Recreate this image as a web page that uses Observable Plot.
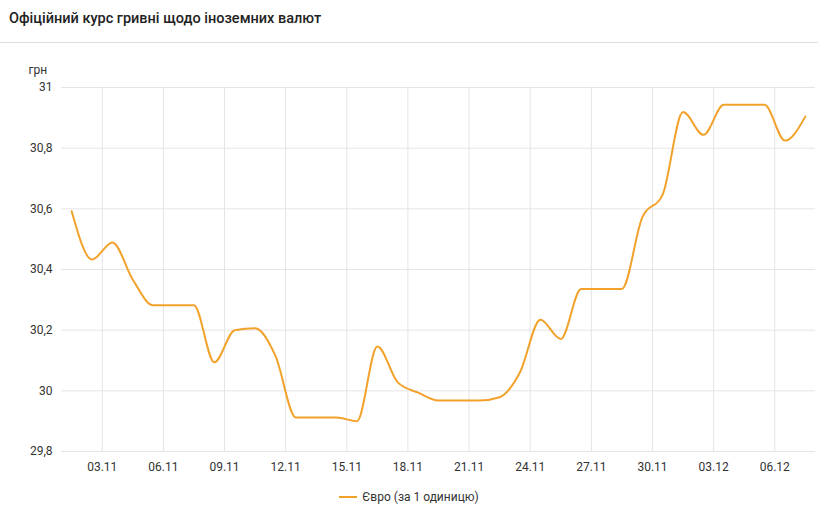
<!DOCTYPE html>
<html>
<head>
<meta charset="utf-8">
<script src="https://cdn.jsdelivr.net/npm/d3@7"></script>
<script src="https://cdn.jsdelivr.net/npm/@observablehq/plot@0.6"></script>
<style>
  html, body { margin: 0; padding: 0; background: #fff; }
  body { width: 818px; height: 530px; overflow: hidden; font-family: Roboto, sans-serif; }
  #header { height: 42px; border-bottom: 1px solid #dedede; box-shadow: 0 1px 2px rgba(0,0,0,0.10); display: flex; align-items: center; }
  #title { margin-left: 9px; font-size: 14.5px; font-weight: 500; color: #222; margin-top: -6px; }
  #chart svg { display: block; }
  #legend { display: flex; justify-content: center; align-items: center; margin-top: 8px; height: 16px; font-size: 12px; color: #333; }
  #legend .sw { width: 18px; height: 2px; background: #f2a22b; margin-right: 5px; }
</style>
</head>
<body>
<div id="header"><div id="title">Офіційний курс гривні щодо іноземних валют</div></div>
<div id="chart"></div>
<div id="legend"><span class="sw"></span><span>Євро (за 1 одиницю)</span></div>
<script>
const dates = [
  "2021-11-01","2021-11-02","2021-11-03","2021-11-04","2021-11-05","2021-11-06","2021-11-07",
  "2021-11-08","2021-11-09","2021-11-10","2021-11-11","2021-11-12","2021-11-13","2021-11-14",
  "2021-11-15","2021-11-16","2021-11-17","2021-11-18","2021-11-19","2021-11-20","2021-11-21",
  "2021-11-22","2021-11-23","2021-11-24","2021-11-25","2021-11-26","2021-11-27","2021-11-28",
  "2021-11-29","2021-11-30","2021-12-01","2021-12-02","2021-12-03","2021-12-04","2021-12-05",
  "2021-12-06","2021-12-07"
];
const euro = [
  30.592, 30.433, 30.489, 30.366, 30.282, 30.282, 30.282,
  30.094, 30.200, 30.206, 30.115, 29.912, 29.912, 29.912,
  29.900, 30.146, 30.028, 29.994, 29.968, 29.968, 29.968,
  29.979, 30.061, 30.234, 30.171, 30.336, 30.336, 30.336,
  30.572, 30.647, 30.919, 30.844, 30.943, 30.943, 30.943,
  30.825, 30.904
];
const xTickLabels = ["03.11","06.11","09.11","12.11","15.11","18.11","21.11","24.11","27.11","30.11","03.12","06.12"];
const yTicks = [29.8, 30, 30.2, 30.4, 30.6, 30.8, 31];
const yTickLabels = ["29,8","30","30,2","30,4","30,6","30,8","31"];

const data = dates.map((d, i) => ({date: new Date(d + "T12:00:00Z"), value: euro[i]}));
const xTickDates = xTickLabels.map(s => {
  const [dd, mm] = s.split(".");
  return new Date(`2021-${mm}-${dd}T00:00:00Z`);
});
const xDomain = [new Date(dates[0] + "T00:00:00Z"), d3.utcDay.offset(new Date(dates[dates.length - 1] + "T00:00:00Z"), 1)];

const grid = "#e4e4e4";
const chart = Plot.plot({
  width: 818,
  height: 438,
  marginLeft: 61,
  marginRight: 3,
  marginTop: 44,
  marginBottom: 30,
  style: {fontFamily: "Roboto, sans-serif", fontSize: "12px", color: "#333", background: "#fff", overflow: "visible"},
  x: {type: "utc", domain: xDomain},
  y: {domain: [29.8, 31]},
  marks: [
    Plot.gridY(yTicks, {stroke: grid, strokeOpacity: 1}),
    Plot.gridX(xTickDates, {stroke: grid, strokeOpacity: 1}),
    Plot.axisY(yTicks, {tickSize: 0, tickPadding: 9, tickFormat: d => yTickLabels[yTicks.indexOf(d)], label: null, fill: "#333"}),
    Plot.axisX(xTickDates, {tickSize: 0, tickPadding: 11, tickFormat: d => xTickLabels[xTickDates.findIndex(t => +t === +d)], label: null, fill: "#333"}),
    Plot.line(data, {x: "date", y: "value", stroke: "#f2a22b", strokeWidth: 2, curve: "monotone-x"}),
    Plot.text(["грн"], {frameAnchor: "top-left", dx: -33, dy: -22, textAnchor: "start", fill: "#333", fontSize: 12})
  ]
});
document.getElementById("chart").appendChild(chart);
</script>
</body>
</html>
